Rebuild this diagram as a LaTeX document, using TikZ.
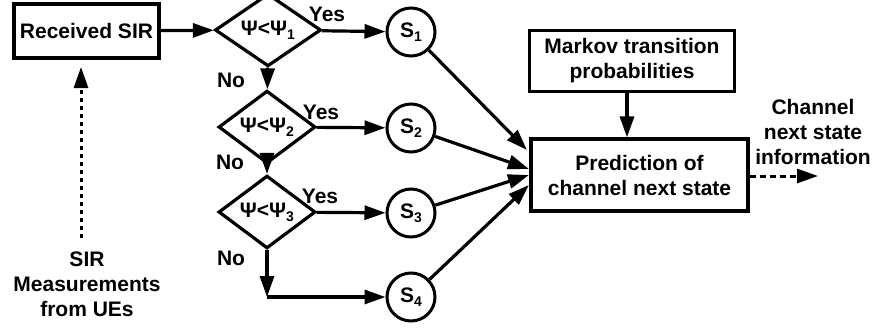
\documentclass[tikz,border=0pt]{standalone}
\usepackage{fontspec}
\setmainfont{Liberation Sans}
\usetikzlibrary{shapes.geometric,arrows.meta}
\newcommand{\lowsub}[1]{\raisebox{-0.2em}{\fontsize{14}{14}\selectfont #1}}
\begin{document}
\begin{tikzpicture}[x=1pt,y=-1pt,
  every node/.style={font=\fontsize{21}{25}\selectfont\bfseries, inner sep=0pt},
  box/.style={draw, line width=3.2pt, rectangle, align=center},
  dec/.style={draw, line width=3.2pt, diamond, minimum width=97pt, minimum height=47pt},
  st/.style={draw, line width=3pt, circle, minimum size=48pt},
  lbl/.style={align=center},
  conn/.style={line width=3.2pt, -{Triangle[length=21pt,width=14pt]}},
]
\useasboundingbox (0,0) rectangle (873,327);

\node[box, minimum width=145pt, minimum height=54pt] (rx) at (86.5,31) {Received SIR};

\node[dec, minimum width=106pt, minimum height=53pt] (d1) at (268,30) {Ψ<Ψ\lowsub{1}};
\node[dec] (d2) at (267,127) {Ψ<Ψ\lowsub{2}};
\node[dec] (d3) at (267,212) {Ψ<Ψ\lowsub{3}};

\node[st] (s1) at (411,32) {S\lowsub{1}};
\node[st] (s2) at (411,128) {S\lowsub{2}};
\node[st] (s3) at (411,213) {S\lowsub{3}};
\node[st] (s4) at (411,297) {S\lowsub{4}};
\coordinate (c4) at (267,297);

\node[lbl] (y1) at (327,14) {Yes};
\node[lbl] (y2) at (321,112) {Yes};
\node[lbl] (y3) at (320,196) {Yes};
\node[lbl] (n1) at (231,80) {No};
\node[lbl] (n2) at (230,162) {No};
\node[lbl] (n3) at (231,258) {No};

\node[box, minimum width=205pt, minimum height=61pt] (mk) at (632,61) {Markov transition\\probabilities};
\node[box, minimum width=217pt, minimum height=72pt] (pr) at (639.5,175) {Prediction of\\channel next state};

\node[lbl] (cn) at (813,132) {Channel\\next state\\information};
\coordinate (out) at (818,176);

\node[lbl] (sm) at (87,284) {SIR\\Measurements\\from UEs};
\coordinate (smtop) at (81,238);
\coordinate (rxin) at (81,67);

\coordinate (t1) at (527,150);
\coordinate (t2) at (529,169);
\coordinate (t3) at (529,175);
\coordinate (t4) at (529,185);

\draw[conn] (rx) -- (d1);
\draw[conn] (d1) -- (s1);
\draw[conn] (d2) -- (s2);
\draw[conn] (d3) -- (s3);
\draw[conn] (d1) -- (d2);
\draw[conn] (d2) -- (d3);
\draw[conn] (d3) -- (c4);
\draw[conn] (c4) -- (s4);

\draw[conn] (s1) -- (t1);
\draw[conn] (s2) -- (t2);
\draw[conn] (s3) -- (t3);
\draw[conn] (s4) -- (t4);

\draw[conn] (mk.south -| 627,0) -- (pr.north -| 627,0);
\draw[conn, line width=3pt, dash pattern=on 6pt off 4pt] (pr.east |- out) -- (out);
\draw[conn, line width=3pt, dash pattern=on 4.5pt off 3.5pt] (smtop) -- (rxin);
\end{tikzpicture}
\end{document}
